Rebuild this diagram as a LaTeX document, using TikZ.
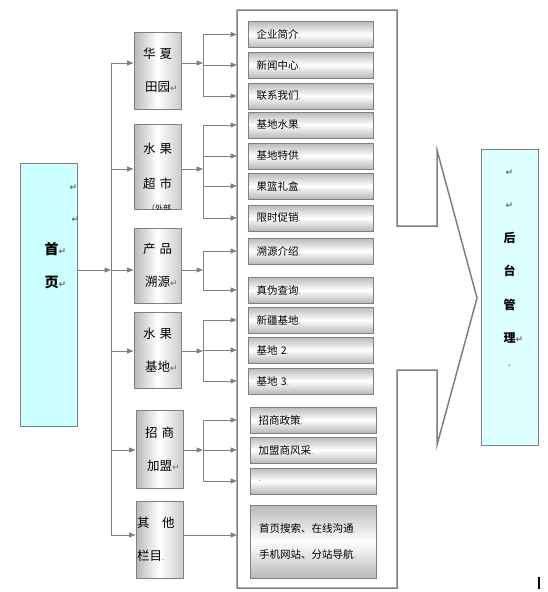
\documentclass[tikz,border=0pt]{standalone}
\usepackage{fontspec}
\usepackage{xcolor}
\usetikzlibrary{arrows.meta, positioning}
\newfontfamily\cjk{Noto Sans CJK SC}
\newfontfamily\dejavu{DejaVu Sans}
\definecolor{edgegray}{HTML}{808080}
\definecolor{homecyan}{HTML}{CCFFFF}
\definecolor{backcyan}{HTML}{DDFFFF}
\newcommand\mk{{\dejavu\color{edgegray!80!black}\fontsize{9}{9}\selectfont ↵}}
\newcommand\pmk{{\color{edgegray}\fontsize{8}{8}\selectfont .}}

\begin{document}
\begin{tikzpicture}[x=1pt, y=-1pt,
    ln/.style={draw=edgegray, line width=0.9pt},
    ar/.style={ln, -{Triangle[length=6.5pt, width=5pt]}},
    side/.style={draw=edgegray, line width=0.9pt, minimum width=57pt, inner sep=0pt},
    cat/.style={draw=edgegray, line width=0.9pt, left color=gray!55, right color=gray!40,
                middle color=white, minimum width=47pt, inner sep=0pt, align=center,
                font=\cjk\fontsize{12.5}{33}\selectfont},
    item/.style={draw=edgegray, line width=1pt, top color=gray!55, bottom color=gray!55,
                 middle color=white, minimum height=26pt, text width=108pt, inner xsep=8.5pt,
                 align=left, font=\cjk\fontsize{10.5}{26}\selectfont}
  ]
  \useasboundingbox (0,0) rectangle (548,592);

  % frame round the third level, pointing to the back end
  \draw[edgegray, line width=1.5pt] (237,10) -- (397,10) -- (397,226) -- (437,226)
    -- (437,150) -- (477,298) -- (437,445) -- (437,370) -- (397,370) -- (397,588)
    -- (237,588) -- cycle;

  % home page and back end
  \node[side, fill=homecyan, minimum height=263pt] (home) at (48.5,294.5) {};
  \node[anchor=west, align=left, font=\cjk\bfseries\fontsize{14}{32.3}\selectfont] (homeTxt)
    at (41,236.5) {\hspace*{25pt}\mk\\\hspace*{27pt}\mk\\首\mk\\页\mk};
  \node[side, fill=backcyan, minimum height=296pt] (back) at (509.5,297) {};
  \node[align=center, font=\cjk\bfseries\fontsize{12}{33.5}\selectfont] (backTxt)
    at (509.5,268) {\mk\\\mk\\后\\台\\管\\理\rlap{\mk}\\[-10pt]\pmk};

  % second level
  \node[cat, minimum height=77pt] (c1) at (157.5,70.5) {华\hspace{4pt}夏\\田园\rlap{\mk}};
  \node[cat, minimum height=85pt] (c2) at (157.5,166.5) {水\hspace{4pt}果\\[2pt]超\hspace{4pt}市};
  \begin{scope}
    \clip (c2.south west) rectangle (c2.north east);
    \node[font=\cjk\fontsize{8}{8}\selectfont] (c2x) at (159,208) {（外部};
  \end{scope}
  \node[cat, minimum height=75pt] (c3) at (157.5,265.5) {产\hspace{4pt}品\\溯源\rlap{\mk}};
  \node[cat, minimum height=76pt] (c4) at (157.5,350) {水\hspace{4pt}果\\基地\rlap{\mk}};
  \node[cat, minimum height=78pt] (c5) at (159.5,449) {招\hspace{4pt}商\\加盟\rlap{\mk}};
  \node[cat, minimum height=77pt, align=left, text width=45pt, inner xsep=1pt] (c6)
    at (159.5,539.5) {其\hspace{1em}他\\栏目\pmk};

  % third level
  \node[item] (i1) at (310.5,34.5) {企业简介\pmk};
  \node[item] (i2) at (310.5,65) {新闻中心\pmk};
  \node[item] (i3) at (310.5,96) {联系我们\pmk};
  \node[item] (i4) at (310.5,125) {基地水果\pmk};
  \node[item] (i5) at (310.5,156) {基地特供\pmk};
  \node[item] (i6) at (310.5,186) {果篮礼盒\pmk};
  \node[item] (i7) at (310.5,218) {限时促销\pmk};
  \node[item] (i8) at (310.5,251) {溯源介绍\pmk};
  \node[item] (i9) at (310.5,290) {真伪查询\pmk};
  \node[item] (i10) at (310.5,320) {新疆基地\pmk};
  \node[item] (i11) at (310.5,350) {基地 2\pmk};
  \node[item] (i12) at (310.5,381) {基地 3\pmk};
  \node[item, text width=109pt] (i13) at (313,420) {招商政策\pmk};
  \node[item, text width=109pt] (i14) at (313,450) {加盟商风采\pmk};
  \node[item, text width=109pt] (i15) at (313,481) {\pmk};
  \node[item, text width=108pt, inner xsep=9pt, minimum height=73pt] (i16) at (313,541.5)
    {首页搜索、在线沟通\pmk\\手机网站、分站导航\pmk};

  % connectors
  \coordinate (trunk) at (111,0);
  \coordinate (fork) at (203,0);
  \coordinate (wall) at (237,0);
  \coordinate (home-out) at ([yshift=24.5pt]home.east);
  \draw[ar] (home-out) -- (home-out -| trunk);
  \foreach \c/\s in {c1/7.5, c2/-2.5, c3/-4.5, c4/-1, c5/-1, c6/4.5} {
    \coordinate (\c-in) at ([yshift=\s pt]\c.west);
    \coordinate (\c-out) at ([yshift=\s pt]\c.east);
    \draw[ar] (\c-in -| trunk) -- (\c-in);
  }
  \draw[ln] (c1-in -| trunk) -- (c6-in -| trunk);
  \foreach \c/\a/\b in {c1/i1/i3, c2/i4/i7, c3/i8/i9, c4/i10/i12, c5/i13/i15} {
    \draw[ar] (\c-out) -- (\c-out -| fork);
    \draw[ln] (\a.west -| fork) -- (\b.west -| fork);
  }
  \foreach \i in {i1,i2,i3,i4,i5,i6,i7,i8,i9,i10,i11,i12,i13,i14,i15}
    \draw[ar] (\i.west -| fork) -- (\i.west -| wall);
  \draw[ar] (c6-out) -- (c6-out -| wall);

  \draw[line width=1.6pt] (539,577) -- (539,589);
\end{tikzpicture}
\end{document}
